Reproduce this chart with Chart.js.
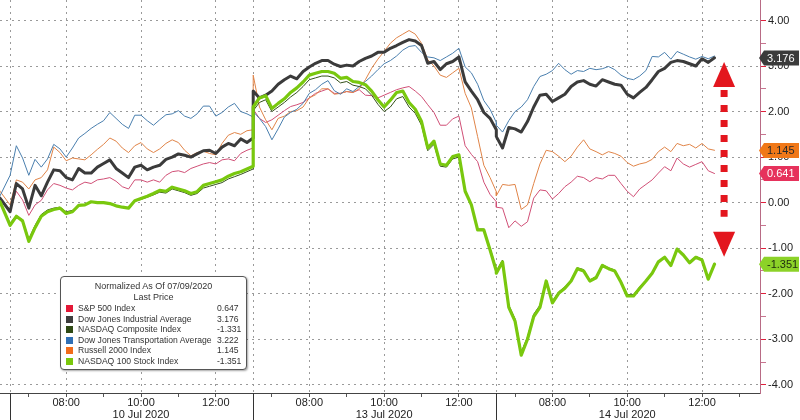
<!DOCTYPE html>
<html lang="en">
<head>
<meta charset="utf-8">
<title>Normalized As Of 07/09/2020</title>
<script src="https://cdn.jsdelivr.net/npm/chart.js@4.4.1/dist/chart.umd.min.js"></script>
<style>
  html, body { margin: 0; padding: 0; background: #fff; }
  #wrap { position: relative; width: 800px; height: 420px; overflow: hidden; }
  #chart { position: absolute; left: 0; top: 0; }
  #legend {
    position: absolute; left: 60px; top: 276px; width: 187px; height: 94px;
    box-sizing: border-box; border: 1px solid #555; border-radius: 4px; background: #fff;
    box-shadow: 1px 1px 2px rgba(0, 0, 0, 0.35);
    font: 8.6px 'Liberation Sans', Arial, sans-serif; color: #333;
  }
  #legend .title { text-align: center; line-height: 11px; padding-top: 4px; height: 22px; font-size: 9px; }
  #legend .row { position: relative; height: 10.6px; line-height: 10.6px; white-space: nowrap; }
  #legend .sw { position: absolute; left: 5px; top: 2px; width: 7px; height: 7px; }
  #legend .name { position: absolute; left: 17px; }
  #legend .val { position: absolute; left: 156px; }
</style>
</head>
<body>
<div id="wrap">
  <canvas id="chart" width="800" height="420"></canvas>
  <div id="legend">
    <div class="title">Normalized As Of 07/09/2020<br>Last Price</div>
    <div id="legend-rows"></div>
  </div>
</div>
<script>
/* ── Data ─────────────────────────────────────────────────── */

// one value before the open, then 10-minute points per session (06:30 - 13:00)
const SESSION_POINTS = [40, 40, 36];
const DAY_LENGTH = 6.5;     // hours per session
const STEP = 1 / 6;         // 10 minutes
const PRE_OPEN = -0.27;

const dayLabels = ['10 Jul 2020', '13 Jul 2020', '14 Jul 2020'];
const hourTicks = ['07:00', '08:00', '09:00', '10:00', '11:00', '12:00', '13:00'];
const shownHours = ['08:00', '10:00', '12:00'];
const dateUnderHour = '10:00';

const yTickValues = [-4, -3.5, -3, -2.5, -2, -1.5, -1, -0.5, 0, 0.5, 1, 1.5, 2, 2.5, 3, 3.5, 4];

const seriesNames = [
  'S&P 500 Index',
  'Dow Jones Industrial Average',
  'NASDAQ Composite Index',
  'Dow Jones Transportation Average',
  'Russell 2000 Index',
  'NASDAQ 100 Stock Index',
];
const lastPrices = [0.647, 3.176, -1.331, 3.222, 1.145, -1.351];

const sp500 = [0.1,
  -0.15, 0.25, 0.06, -0.28, -0.05, 0.05, 0.28, 0.42, 0.38, 0.32, 0.28, 0.38, 0.45, 0.42, 0.5, 0.52, 0.55, 0.47, 0.35, 0.3,
  0.5, 0.5, 0.45, 0.5, 0.45, 0.6, 0.68, 0.7, 0.66, 0.75, 0.8, 0.85, 0.88, 0.85, 0.94, 0.96, 0.92, 1.08, 1.15, 1.2,
  2.05, 1.85, 1.76, 1.82, 1.92, 2.02, 2.11, 2.15, 2.2, 2.3, 2.4, 2.45, 2.5, 2.4, 2.4, 2.44, 2.42, 2.48, 2.36, 2.35,
  2.3, 2.36, 2.42, 2.48, 2.52, 2.55, 2.45, 2.33, 2.15, 1.98, 1.7, 1.7, 1.84, 1.9, 1.25, 1.06, 0.9, 0.45, 0.18, 0.02,
  -0.1, -0.12, -0.55, -0.4, -0.52, -0.42, 0.1, 0.28, 0.26, 0.08, 0.2, 0.35, 0.45, 0.58, 0.55, 0.46, 0.55, 0.52, 0.6, 0.6,
  0.42, 0.25, 0.13, 0.3, 0.4, 0.5, 0.65, 0.79, 0.7, 0.98, 0.85, 0.78, 0.84, 0.9, 0.7, 0.64];

const dowIndustrial = [0.1,
  -0.2, 0.42, 0.3, -0.12, 0.38, 0.15, 0.45, 0.72, 0.7, 0.55, 0.5, 0.75, 0.65, 0.65, 0.78, 0.86, 0.94, 0.75, 0.65, 0.55,
  0.78, 0.82, 0.72, 0.78, 0.82, 0.95, 1.0, 1.07, 1.04, 1.0, 1.07, 1.14, 1.15, 1.08, 1.22, 1.3, 1.25, 1.4, 1.32, 1.42,
  2.45, 2.3, 2.36, 2.45, 2.6, 2.7, 2.78, 2.72, 2.88, 2.98, 3.06, 3.12, 3.12, 3.04, 2.99, 3.02, 3.0, 3.1, 3.17, 3.22,
  3.3, 3.3, 3.39, 3.45, 3.52, 3.58, 3.55, 3.45, 3.06, 3.1, 2.92, 3.05, 3.1, 3.2, 2.65, 2.45, 2.26, 1.98, 1.85, 1.6,
  1.45, 1.2, 1.65, 1.62, 1.55, 1.78, 2.1, 2.36, 2.38, 2.22, 2.3, 2.38, 2.55, 2.65, 2.68, 2.6, 2.56, 2.7, 2.65, 2.6,
  2.58, 2.38, 2.3, 2.42, 2.53, 2.7, 2.88, 2.95, 3.08, 3.12, 3.1, 3.05, 3.0, 3.16, 3.08, 3.18];

const nasdaqComposite = [0.0,
  -0.45, -0.28, -0.38, -0.8, -0.5, -0.26, -0.16, -0.12, -0.1, -0.2, -0.17, -0.05, -0.04, 0.02, 0.0, -0.01, -0.03, -0.08, -0.1, -0.12,
  0.03, 0.07, 0.12, 0.17, 0.23, 0.21, 0.3, 0.26, 0.22, 0.16, 0.2, 0.32, 0.36, 0.4, 0.44, 0.52, 0.57, 0.62, 0.68, 0.74,
  2.02, 2.2, 2.26, 2.0, 2.1, 2.2, 2.32, 2.42, 2.55, 2.7, 2.74, 2.78, 2.78, 2.74, 2.63, 2.66, 2.58, 2.55, 2.5, 2.36,
  2.16, 2.0, 2.1, 2.28, 2.33, 2.1, 1.96, 1.7, 1.14, 1.28, 0.8, 0.78, 0.96, 1.0, 0.22, -0.06, -0.58, -0.58, -1.0, -1.45,
  -1.5, -1.26, -2.25, -2.55, -3.28, -2.95, -2.45, -2.25, -1.7, -2.16, -1.96, -1.85, -1.7, -1.43, -1.47, -1.7, -1.62, -1.36, -1.43, -1.48,
  -1.72, -2.02, -2.02, -1.85, -1.7, -1.53, -1.29, -1.19, -1.36, -1.01, -1.14, -1.3, -1.18, -1.24, -1.66, -1.33];

const dowTransport = [0.15,
  0.6, 1.25, 0.98, 0.6, 0.95, 0.78, 0.96, 1.28, 1.18, 1.0, 1.2, 1.42, 1.52, 1.63, 1.72, 1.8, 1.98, 1.85, 1.72, 1.63,
  1.92, 1.92, 1.8, 1.7, 1.82, 1.93, 1.95, 2.02, 1.9, 1.85, 1.95, 2.12, 2.12, 1.9, 1.98, 2.1, 2.18, 2.0, 1.95, 1.88,
  2.0, 1.85, 1.67, 1.38, 1.62, 1.88, 1.98, 2.05, 2.18, 2.4, 2.48, 2.6, 2.68, 2.46, 2.38, 2.5, 2.44, 2.55, 2.66, 2.78,
  2.92, 3.05, 3.12, 3.22, 3.35, 3.43, 3.45, 3.3, 3.2, 3.18, 3.12, 3.2, 3.28, 3.39, 2.98, 2.85, 2.6, 2.24, 2.05, 1.76,
  1.7, 1.55, 1.8, 2.0, 2.1, 2.26, 2.55, 2.77, 2.82, 2.9, 3.06, 2.92, 2.82, 2.9, 2.88, 2.95, 2.92, 2.94, 2.99, 2.92,
  2.8, 2.73, 2.7, 2.78, 2.9, 3.21, 3.2, 3.3, 3.15, 3.32, 3.26, 3.2, 3.15, 3.21, 3.16, 3.22];

const russell2000 = [0.25,
  -0.05, 0.5, 0.45, 0.3, 0.5, 0.55, 0.72, 1.22, 1.1, 0.92, 0.98, 0.96, 0.94, 1.05, 1.17, 1.28, 1.42, 1.35, 1.2, 1.1,
  1.25, 1.32, 1.18, 1.1, 1.18, 1.3, 1.38, 1.32, 1.15, 1.03, 1.1, 1.13, 1.08, 1.05, 1.3, 1.48, 1.54, 1.5, 1.58, 1.6,
  2.8, 2.1, 1.82, 1.6, 1.85, 1.9, 2.0, 2.02, 2.1, 2.3, 2.37, 2.5, 2.5, 2.38, 2.4, 2.44, 2.42, 2.5, 2.7, 2.95,
  3.15, 3.32, 3.5, 3.62, 3.7, 3.78, 3.7, 3.5, 3.14, 3.0, 2.8, 2.75, 2.85, 2.95, 2.4, 2.08, 1.45, 0.82, 0.55, 0.24,
  0.15, 0.4, 0.38, 0.4, -0.15, -0.05, 0.42, 0.85, 1.15, 1.12, 1.02, 0.9, 1.02, 1.22, 1.38, 1.18, 1.12, 1.05, 1.12, 1.08,
  1.02, 0.88, 0.8, 0.85, 0.88, 0.95, 1.12, 1.22, 1.12, 1.3, 1.25, 1.28, 1.2, 1.3, 1.18, 1.15];

const nasdaq100 = [0.02,
  -0.5, -0.3, -0.4, -0.85, -0.55, -0.3, -0.2, -0.15, -0.12, -0.24, -0.2, -0.06, -0.05, 0.02, 0.0, 0.0, -0.02, -0.07, -0.1, -0.12,
  0.04, 0.09, 0.14, 0.2, 0.27, 0.25, 0.34, 0.3, 0.26, 0.2, 0.24, 0.38, 0.42, 0.46, 0.5, 0.58, 0.64, 0.68, 0.74, 0.8,
  2.1, 2.3, 2.35, 2.07, 2.18, 2.28, 2.42, 2.52, 2.65, 2.8, 2.84, 2.88, 2.88, 2.84, 2.73, 2.75, 2.66, 2.64, 2.59, 2.45,
  2.26, 2.1, 2.25, 2.42, 2.45, 2.2, 2.05, 1.78, 1.2, 1.35, 0.85, 0.82, 1.01, 1.05, 0.25, -0.05, -0.6, -0.6, -1.04, -1.5,
  -1.55, -1.3, -2.3, -2.6, -3.35, -3.0, -2.5, -2.3, -1.72, -2.2, -1.99, -1.88, -1.72, -1.45, -1.5, -1.72, -1.65, -1.38, -1.45, -1.5,
  -1.75, -2.05, -2.05, -1.88, -1.72, -1.55, -1.3, -1.2, -1.38, -1.02, -1.15, -1.32, -1.2, -1.26, -1.68, -1.35];

// price tags on the right axis
const tagValues = [3.176, 1.145, 0.641, -1.351];

// red double arrow (hours / normalized value)
const arrowX = 19.09;
const arrowTop = 3.09;
const arrowBottom = -1.19;

/* ── Style ────────────────────────────────────────────────── */

const FONT = "'Liberation Sans', Arial, sans-serif";
const GRID_COLOR = '#9a9a9a';

const swatchColors = ['#e31837', '#3d3d3d', '#2f4a14', '#2f6fb5', '#f26c1a', '#7ac70c'];
const tagStyles = [
  { bg: '#3b3b3b', fg: '#ffffff' },
  { bg: '#f07818', fg: '#2a2a2a' },
  { bg: '#e6325c', fg: '#ffffff' },
  { bg: '#8cd228', fg: '#1e2a10' },
];

/* ── Helpers ──────────────────────────────────────────────── */

/**
 * Ubah deret nilai menjadi titik {x, y} (x dalam jam sejak 06:30 hari pertama).
 * @param {number[]} values
 */
function toPoints(values) {
  const pts = [{ x: PRE_OPEN, y: values[0] }];
  let idx = 1;
  SESSION_POINTS.forEach((count, day) => {
    for (let i = 0; i < count && idx < values.length; i++) {
      pts.push({ x: day * DAY_LENGTH + i * STEP, y: values[idx++] });
    }
  });
  return pts;
}

/** Tick list for the time axis: session starts, every hour, labels on shown hours. */
function buildTimeTicks() {
  const ticks = [];
  dayLabels.forEach((date, day) => {
    const start = day * DAY_LENGTH;
    ticks.push({ value: start, kind: 'start', text: '' });
    hourTicks.forEach((hh, j) => {
      const value = start + 0.5 + j;
      if (j === hourTicks.length - 1 && day < dayLabels.length - 1) return; // 13:00 = next open
      const shown = shownHours.includes(hh);
      let text = shown ? hh : '';
      if (hh === dateUnderHour) text = [hh, date];
      ticks.push({ value, kind: shown ? 'major' : 'minor', text });
    });
  });
  return ticks;
}

/* ── Plugin: separators, arrow, price tags ────────────────── */

const decorPlugin = {
  id: 'decor',
  afterDraw(chart) {
    const { ctx, chartArea, scales: { x, y } } = chart;
    ctx.save();

    // garis pemisah hari di bawah sumbu waktu
    ctx.strokeStyle = '#333';
    ctx.lineWidth = 1;
    dayLabels.forEach((_, day) => {
      const px = Math.round(x.getPixelForValue(day * DAY_LENGTH)) + 0.5;
      ctx.beginPath();
      ctx.moveTo(px, chartArea.bottom);
      ctx.lineTo(px, chart.height);
      ctx.stroke();
    });

    // panah merah putus-putus
    const ax = x.getPixelForValue(arrowX);
    const yTop = y.getPixelForValue(arrowTop);
    const yBot = y.getPixelForValue(arrowBottom);
    const head = 25;
    const half = 11;
    ctx.fillStyle = '#e3161e';
    ctx.beginPath();
    ctx.moveTo(ax, yTop);
    ctx.lineTo(ax + half, yTop + head);
    ctx.lineTo(ax - half, yTop + head);
    ctx.closePath();
    ctx.fill();
    ctx.beginPath();
    ctx.moveTo(ax, yBot);
    ctx.lineTo(ax + half, yBot - head);
    ctx.lineTo(ax - half, yBot - head);
    ctx.closePath();
    ctx.fill();
    ctx.strokeStyle = '#e3161e';
    ctx.lineWidth = 7;
    ctx.setLineDash([7, 8]);
    ctx.beginPath();
    ctx.moveTo(ax, yTop + head + 3);
    ctx.lineTo(ax, yBot - head - 15);
    ctx.stroke();
    ctx.setLineDash([]);

    // label harga terakhir di sumbu kanan
    ctx.font = `11px ${FONT}`;
    ctx.textAlign = 'left';
    ctx.textBaseline = 'middle';
    tagValues.forEach((value, i) => {
      const py = y.getPixelForValue(value);
      const left = chartArea.right - 1;
      ctx.fillStyle = tagStyles[i].bg;
      ctx.beginPath();
      ctx.moveTo(left, py);
      ctx.lineTo(left + 5, py - 7.5);
      ctx.lineTo(799, py - 7.5);
      ctx.lineTo(799, py + 7.5);
      ctx.lineTo(left + 5, py + 7.5);
      ctx.closePath();
      ctx.fill();
      ctx.fillStyle = tagStyles[i].fg;
      ctx.fillText(value.toFixed(3), left + 8, py + 0.5);
    });

    ctx.restore();
  },
};

/* ── Legend ───────────────────────────────────────────────── */

(function renderLegend() {
  const rows = document.getElementById('legend-rows');
  seriesNames.forEach((name, i) => {
    const row = document.createElement('div');
    row.className = 'row';
    row.innerHTML = `<span class="sw" style="background:${swatchColors[i]}"></span>` +
      `<span class="name"></span><span class="val"></span>`;
    row.querySelector('.name').textContent = name;
    row.querySelector('.val').textContent = lastPrices[i].toFixed(3);
    rows.appendChild(row);
  });
})();

/* ── Chart ────────────────────────────────────────────────── */

const timeTicks = buildTimeTicks();

const lineDefaults = { pointRadius: 0, tension: 0, borderJoinStyle: 'round', borderCapStyle: 'round' };

new Chart(document.getElementById('chart'), {
  type: 'line',
  data: {
    datasets: [
      { ...lineDefaults, label: seriesNames[5], data: toPoints(nasdaq100), borderColor: '#79c80e', borderWidth: 3.2, order: 0 },
      { ...lineDefaults, label: seriesNames[1], data: toPoints(dowIndustrial), borderColor: '#3b3b3b', borderWidth: 3, order: 1 },
      { ...lineDefaults, label: seriesNames[2], data: toPoints(nasdaqComposite), borderColor: '#33501a', borderWidth: 1, order: 2 },
      { ...lineDefaults, label: seriesNames[3], data: toPoints(dowTransport), borderColor: '#4a7fae', borderWidth: 1, order: 3 },
      { ...lineDefaults, label: seriesNames[4], data: toPoints(russell2000), borderColor: '#e08448', borderWidth: 1, order: 4 },
      { ...lineDefaults, label: seriesNames[0], data: toPoints(sp500), borderColor: '#d04f76', borderWidth: 1, order: 5 },
    ],
  },
  options: {
    responsive: false,
    animation: false,
    devicePixelRatio: 1,
    layout: { padding: 0 },
    plugins: { legend: { display: false }, tooltip: { enabled: false } },
    scales: {
      x: {
        type: 'linear',
        min: PRE_OPEN,
        max: 20.05,
        afterBuildTicks(scale) {
          scale.ticks = timeTicks.map((t) => ({ value: t.value, kind: t.kind, text: t.text }));
        },
        afterFit(scale) {
          scale.height = 27;
          scale.paddingLeft = 0;
          scale.paddingRight = 0;
        },
        grid: {
          color: (ctx) => (ctx.tick && ctx.tick.kind !== 'minor' ? GRID_COLOR : 'transparent'),
          tickColor: (ctx) => (ctx.tick && ctx.tick.kind !== 'start' ? '#555' : 'transparent'),
          tickLength: 4,
          lineWidth: 1,
        },
        border: { color: '#444', width: 1, dash: [2, 4] },
        ticks: {
          autoSkip: false,
          maxRotation: 0,
          minRotation: 0,
          padding: 0,
          color: '#222',
          font: { family: FONT, size: 11, lineHeight: 1.1 },
          callback: (value, index, ticks) => ticks[index].text,
        },
      },
      y: {
        position: 'right',
        min: -4.18,
        max: 4.45,
        afterBuildTicks(scale) {
          scale.ticks = yTickValues.map((v) => ({ value: v }));
        },
        afterFit(scale) {
          scale.width = 40;
          scale.paddingTop = 0;
          scale.paddingBottom = 0;
        },
        grid: {
          color: (ctx) => (ctx.tick && Number.isInteger(ctx.tick.value) ? GRID_COLOR : 'transparent'),
          tickColor: (ctx) => (ctx.tick && Number.isInteger(ctx.tick.value) ? '#e0203c' : '#c77590'),
          tickLength: 6,
          lineWidth: 1,
        },
        border: { color: '#b86b85', width: 1, dash: [2, 4] },
        ticks: {
          padding: 2,
          color: '#222',
          font: { family: FONT, size: 11 },
          callback: (value) => (Number.isInteger(value) ? value.toFixed(2) : ''),
        },
      },
    },
  },
  plugins: [decorPlugin],
});
</script>
</body>
</html>
